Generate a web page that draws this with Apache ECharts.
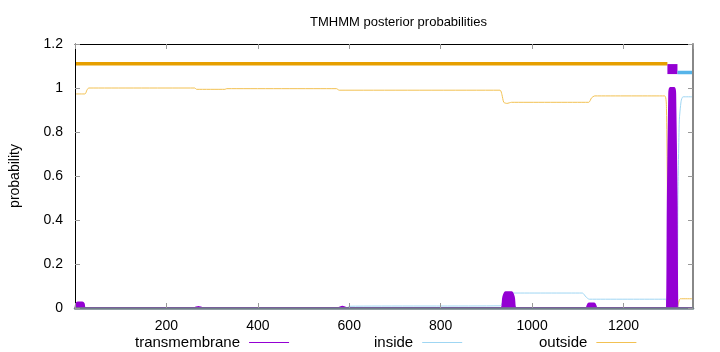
<!DOCTYPE html>
<html><head><meta charset="utf-8">
<script src="https://cdn.jsdelivr.net/npm/echarts@6/dist/echarts.min.js"></script>
<style>html,body{margin:0;padding:0;background:#fff}#c{width:720px;height:352px}</style>
</head><body><div id="c"></div>
<script>
// ---- data (residue position, probability) ----
const xMin = 0, xMax = 1352;
const xTicks = [200, 400, 600, 800, 1000, 1200];
const yTicks = [0, 0.2, 0.4, 0.6, 0.8, 1, 1.2];

const tmPos = [1, 3, 6, 16, 19, 22, 260, 270, 280, 575, 585, 595, 932, 937, 942, 955, 960, 965, 1118, 1124, 1136, 1142, 1293, 1297, 1300, 1302, 1311, 1313, 1316, 1320, 1352];
const tmVal = [0, 0.02, 0.025, 0.025, 0.02, 0, 0, 0.005, 0, 0, 0.006, 0, 0, 0.05, 0.072, 0.072, 0.05, 0, 0, 0.02, 0.02, 0, 0, 0.5, 0.97, 1.0, 1.0, 0.97, 0.5, 0, 0];

const inPos = [1, 595, 600, 930, 940, 950, 1110, 1118, 1125, 1292, 1296, 1316, 1319, 1322, 1326, 1330, 1352];
const inVal = [0.0, 0.0, 0.008, 0.01, 0.05, 0.068, 0.068, 0.05, 0.04, 0.04, 0.0, 0.0, 0.5, 0.85, 0.94, 0.96, 0.96];

const outPos = [1, 22, 26, 30, 262, 266, 328, 332, 572, 578, 930, 934, 938, 945, 955, 1124, 1130, 1137, 1290, 1294, 1297, 1300, 1316, 1320, 1324, 1352];
const outVal = [0.973, 0.973, 0.99, 1.0, 1.0, 0.994, 0.994, 0.997, 0.997, 0.99, 0.99, 0.97, 0.935, 0.93, 0.935, 0.935, 0.955, 0.964, 0.964, 0.9, 0.3, 0.0, 0.0, 0.02, 0.042, 0.042];

// predicted topology bars at the top
const topOutPos = [1, 1296];   const topOutY = 1.11;
const topTmPos  = [1296, 1318]; const topTmY  = 1.086;
const topInPos  = [1318, 1352]; const topInY  = 1.07;

const zip = (a, b) => a.map((x, i) => [x, b[i]]);
const flat = (a, y) => a.map(x => [x, y]);

const FONT = 'Liberation Sans, Arial, sans-serif';
const PURPLE = '#9400d3', BLUE = '#56b4e9', ORANGE = '#e69f00';
const BLUE_T = '#9fd6f3', ORANGE_T = '#f2c152';

const chart = echarts.init(document.getElementById('c'), null, {renderer: 'canvas'});
const grid = {left: 73, right: 27, top: 44, bottom: 44};
const fmtX = v => (xTicks.indexOf(v) >= 0 ? String(v) : '');
const fmtY = v => String(parseFloat(v.toFixed(1)));

const legendBase = {
  orient: 'horizontal', top: 330, align: 'right', icon: 'rect',
  itemWidth: 40, itemHeight: 1, itemGap: 0,
  textStyle: {fontFamily: FONT, fontSize: 15, color: '#000', padding: [0, 4, 0, 0]},
  selectedMode: false
};

chart.setOption({
  animation: false,
  backgroundColor: '#fff',
  title: {text: 'TMHMM posterior probabilities', left: 305, top: 11,
    textStyle: {fontFamily: FONT, fontSize: 13, fontWeight: 'normal', color: '#000'}},
  legend: [
    Object.assign({}, legendBase, {left: 130, data: ['transmembrane']}),
    Object.assign({}, legendBase, {left: 369, data: ['inside']}),
    Object.assign({}, legendBase, {left: 534, data: ['outside']})
  ],
  grid: grid,
  xAxis: [
    {type: 'value', min: xMin, max: xMax, interval: 200, position: 'bottom', z: 5,
      axisLine: {show: true, onZero: false, lineStyle: {color: '#6f7f88', width: 2.5}},
      axisTick: {show: true, inside: true, length: 5, lineStyle: {color: '#999'}},
      axisLabel: {formatter: fmtX, showMaxLabel: false, margin: 11,
        fontFamily: FONT, fontSize: 14, color: '#000'},
      splitLine: {show: false}},
    {type: 'value', min: xMin, max: xMax, interval: 200, position: 'top', z: 5,
      axisLine: {show: true, onZero: false, lineStyle: {color: '#000', width: 1}},
      axisTick: {show: true, inside: true, length: 5, lineStyle: {color: '#999'}},
      axisLabel: {show: false}, splitLine: {show: false}}
  ],
  yAxis: [
    {type: 'value', min: 0, max: 1.2, interval: 0.2, position: 'left', z: 5,
      name: 'probability', nameLocation: 'middle', nameGap: 53,
      nameTextStyle: {fontFamily: FONT, fontSize: 14, color: '#000'},
      axisLine: {show: true, onZero: false, lineStyle: {color: '#000', width: 1}},
      axisTick: {show: true, inside: true, length: 5, lineStyle: {color: '#999'}},
      axisLabel: {formatter: fmtY, margin: 12, fontFamily: FONT, fontSize: 14, color: '#000'},
      splitLine: {show: false}},
    {type: 'value', min: 0, max: 1.2, interval: 0.2, position: 'right', z: 5,
      axisLine: {show: true, onZero: false, lineStyle: {color: '#888', width: 2}},
      axisTick: {show: true, inside: true, length: 5, lineStyle: {color: '#999'}},
      axisLabel: {show: false}, splitLine: {show: false}}
  ],
  series: [
    {name: 'transmembrane', type: 'line', color: PURPLE, data: zip(tmPos, tmVal),
      showSymbol: false, symbol: 'none', smooth: 0.3,
      lineStyle: {color: PURPLE, width: 2}, areaStyle: {color: PURPLE, opacity: 1}, z: 3},
    {name: 'inside', type: 'line', color: BLUE_T, data: zip(inPos, inVal),
      showSymbol: false, symbol: 'none', smooth: 0.2,
      lineStyle: {color: BLUE_T, width: 1}, z: 2},
    {name: 'outside', type: 'line', color: ORANGE_T, data: zip(outPos, outVal),
      showSymbol: false, symbol: 'none', smooth: 0.2,
      lineStyle: {color: ORANGE_T, width: 1}, z: 2},
    {name: 'topOut', type: 'line', data: flat(topOutPos, topOutY), showSymbol: false, symbol: 'none',
      lineStyle: {color: ORANGE, width: 3.5}, z: 4},
    {name: 'topTm', type: 'line', data: flat(topTmPos, topTmY), showSymbol: false, symbol: 'none',
      lineStyle: {color: PURPLE, width: 10, cap: 'butt'}, z: 4},
    {name: 'topIn', type: 'line', data: flat(topInPos, topInY), showSymbol: false, symbol: 'none',
      lineStyle: {color: BLUE, width: 3.5}, z: 4}
  ]
});
</script></body></html>
